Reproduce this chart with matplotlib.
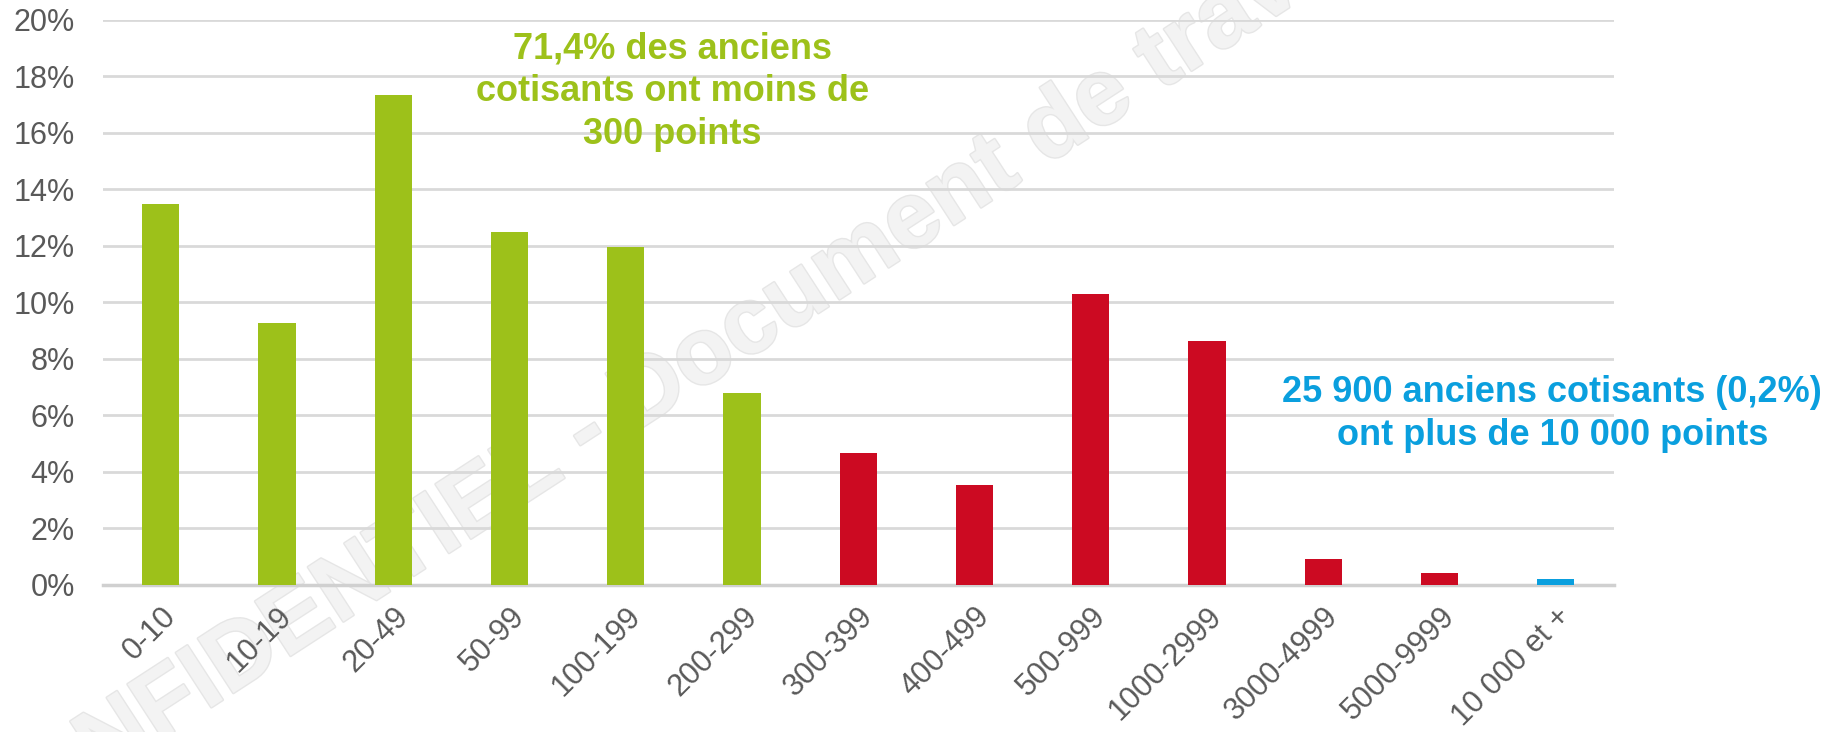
import matplotlib
matplotlib.use("Agg")
import matplotlib.pyplot as plt
import matplotlib.patheffects as pe
from matplotlib.ticker import PercentFormatter

plt.rcParams["font.family"] = ["Liberation Sans", "DejaVu Sans"]

# Tranches de points et part des anciens cotisants (%)
categories = ["0-10", "10-19", "20-49", "50-99", "100-199", "200-299",
              "300-399", "400-499", "500-999", "1000-2999", "3000-4999",
              "5000-9999", "10 000 et +"]
shares = [13.48, 9.26, 17.34, 12.49, 11.95, 6.78,
          4.65, 3.54, 10.29, 8.64, 0.92, 0.41, 0.19]
groups = ["low"] * 6 + ["mid"] * 6 + ["high"]

GREEN = "#9DC11A"
RED = "#CC0A22"
BLUE = "#0A9FDE"
GREY = "#595959"
group_colors = {"low": GREEN, "mid": RED, "high": BLUE}

fig = plt.figure(figsize=(18.34, 7.32), dpi=100)
ax = fig.add_axes([0.056, 0.201, 0.824, 0.772])
ax.patch.set_alpha(0)

# Filigrane (derriere le graphique)
fig.text(-0.01, -0.17, "CONFIDENTIEL - Document de travail - ", fontsize=68,
         fontweight="bold", color="#F3F3F3", rotation=33,
         rotation_mode="anchor", ha="left", va="baseline", zorder=-1,
         path_effects=[pe.withStroke(linewidth=2, foreground="#E6E6E6")])

x = range(len(categories))
ax.bar(x, shares, width=0.32, color=[group_colors[g] for g in groups], zorder=3)

ax.set_xlim(-0.5, len(categories) - 0.5)
ax.set_ylim(0, 20)
ax.set_yticks(range(0, 21, 2))
ax.yaxis.set_major_formatter(PercentFormatter(decimals=0))
ax.grid(axis="y", color="#D9D9D9", linewidth=2, zorder=0)
ax.set_axisbelow(True)

for s in ["top", "right", "left"]:
    ax.spines[s].set_visible(False)
ax.spines["bottom"].set_color("#D0D0D0")
ax.spines["bottom"].set_linewidth(2.5)

ax.set_xticks(list(x))
ax.set_xticklabels(categories, rotation=45, ha="right", rotation_mode="anchor")
ax.tick_params(axis="both", length=0, labelsize=22, labelcolor=GREY)
ax.tick_params(axis="x", pad=12)
ax.tick_params(axis="y", pad=20)

# Annotations
ax.text(4.4, 17.45, "71,4% des anciens\ncotisants ont moins de\n300 points",
        ha="center", va="center", fontsize=26, fontweight="bold", color=GREEN,
        linespacing=1.3, zorder=4)
ax.text(11.97, 6.05, "25 900 anciens cotisants (0,2%)\nont plus de 10 000 points",
        ha="center", va="center", fontsize=26, fontweight="bold", color=BLUE,
        linespacing=1.3, zorder=4, clip_on=False)

plt.savefig("out.png", dpi=100)
